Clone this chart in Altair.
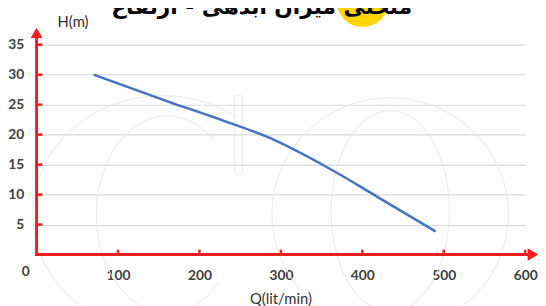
import altair as alt
import pandas as pd

# ---- data ----
flow_q = [70, 160, 230, 282, 366, 420, 490]              # Q (lit/min)
head_h = [30.0, 25.6, 22.3, 19.7, 13.85, 9.5, 3.85]      # H (m)
y_tick_values = [5, 10, 15, 20, 25, 30, 35]
x_tick_values = [100, 200, 300, 400, 500, 600]
title_text = "منحنی میزان آبدهی - ارتفاع"
x_title = "Q(lit/min)"
y_title = "H(m)"

W, H = 496, 213
RED = "#F21D1D"
LABEL = "#404040"
FONT = "Lato"

curve = pd.DataFrame({"Q": flow_q, "H": head_h})
ytk = pd.DataFrame({"v": y_tick_values})
xtk = pd.DataFrame({"v": x_tick_values})
one = pd.DataFrame({"k": [0]})

xs = alt.Scale(domain=[0, 600], nice=False, zero=True)
ys = alt.Scale(domain=[0, 35], nice=False, zero=True)

x_axis = alt.Axis(
    values=x_tick_values, grid=False, domain=False, ticks=False, tickSize=0,
    labelPadding=14, labelFont=FONT, labelFontSize=14, labelFontWeight="bold",
    labelColor=LABEL, title=None, labelFlush=False, labelOverlap=False)
y_axis = alt.Axis(
    values=y_tick_values, grid=True, gridColor="#d9d9d9", gridWidth=1.2,
    domain=False, ticks=False, tickSize=0, labelPadding=13,
    labelFont=FONT, labelFontSize=14, labelFontWeight="bold",
    labelColor=LABEL, title=None, labelOverlap=False, labelFlush=False)

# faint watermark shapes (decoration)
wm_color = "#e9e9e9"
o_outer = "M -120 0 A 120 118 0 1 0 120 0 A 120 118 0 1 0 -120 0 Z"
o_inner = "M -60 0 A 60 102 0 1 0 60 0 A 60 102 0 1 0 -60 0 Z"
c_outer = "M 75 -99 A 132 120 0 1 0 82 94"
c_inner = "M 50 -72 A 72 100 0 1 0 55 72"
c_serif = "M -4 -40 L 4 -40 L 4 36 A 4 4 0 0 1 -4 36 Z"

def wm(path, x, y):
    return alt.Chart(one).mark_point(
        shape=path, size=4, filled=False, stroke=wm_color, strokeWidth=1, opacity=1
    ).encode(x=alt.value(x), y=alt.value(y))

watermark = (wm(o_outer, 359, 172) + wm(o_inner, 359, 169) + wm(c_outer, 128, 172)
             + wm(c_inner, 130, 169) + wm(c_serif, 205, 92))

line = alt.Chart(curve).mark_line(
    color="#4472C4", strokeWidth=2.5, interpolate="monotone"
).encode(
    x=alt.X("Q:Q", scale=xs, axis=x_axis),
    y=alt.Y("H:Q", scale=ys, axis=y_axis),
)

y_axis_line = alt.Chart(one).mark_rule(color=RED, strokeWidth=3).encode(
    x=alt.value(0), y=alt.value(H + 1.5), y2=alt.value(-8))
x_axis_line = alt.Chart(one).mark_rule(color=RED, strokeWidth=3).encode(
    x=alt.value(-1.5), x2=alt.value(500), y=alt.value(H))
y_ticks = alt.Chart(ytk).mark_rule(color=RED, strokeWidth=2.5).encode(
    y=alt.Y("v:Q", scale=ys, axis=y_axis), x=alt.value(0), x2=alt.value(6))
x_ticks = alt.Chart(xtk).mark_rule(color=RED, strokeWidth=2.5).encode(
    x=alt.X("v:Q", scale=xs, axis=x_axis), y=alt.value(H), y2=alt.value(H - 5))
y_arrow = alt.Chart(one).mark_point(shape="triangle-up", filled=True, size=144,
                                    color=RED, opacity=1).encode(
    x=alt.value(0), y=alt.value(-12))
x_arrow = alt.Chart(one).mark_point(shape="triangle-right", filled=True, size=160,
                                    color=RED, opacity=1).encode(
    x=alt.value(504), y=alt.value(H))

zero_lbl = alt.Chart(one).mark_text(
    text="0", font=FONT, fontSize=14, fontWeight="bold", color=LABEL,
    align="center", baseline="middle").encode(x=alt.value(-11), y=alt.value(230.5))
h_lbl = alt.Chart(one).mark_text(
    text=y_title, font=FONT, fontSize=15, color="#333333",
    align="center", baseline="middle").encode(x=alt.value(37), y=alt.value(-22.5))
q_lbl = alt.Chart(one).mark_text(
    text=x_title, font=FONT, fontSize=15, color="#333333",
    align="center", baseline="alphabetic").encode(x=alt.value(248), y=alt.value(263.5))

badge = alt.Chart(one).mark_point(shape="circle", filled=True, size=2809,
                                  color="#FFD500", opacity=1).encode(
    x=alt.value(331), y=alt.value(-44.6))
title = alt.Chart(one).mark_text(
    text=title_text, font="DejaVu Sans", fontSize=22, fontWeight="bold", color="#000000",
    align="center", baseline="alphabetic").encode(x=alt.value(228.5), y=alt.value(-31))

chart = alt.layer(
    watermark, line, y_axis_line, x_axis_line, y_ticks, x_ticks, y_arrow, x_arrow,
    zero_lbl, h_lbl, q_lbl, badge, title
).properties(
    width=W, height=H,
    autosize=alt.AutoSizeParams(type="none"),
    padding={"left": 29, "top": 35, "right": 13, "bottom": 50},
).configure_view(stroke=None)

chart.save("out.html", embed_options={"renderer": "svg", "actions": False})
